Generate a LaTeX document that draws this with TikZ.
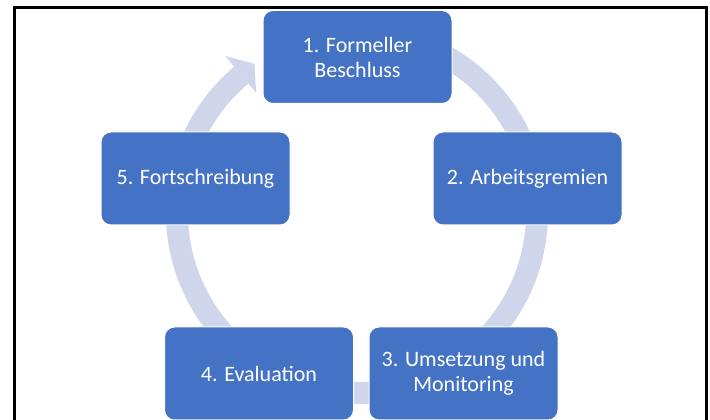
\documentclass[tikz,border=0pt]{standalone}
\usepackage{fontspec}
\setmainfont{Carlito}
\usetikzlibrary{calc}
\definecolor{boxblue}{HTML}{4472C4}
\definecolor{ringcol}{HTML}{CFD5EA}
\begin{document}
\begin{tikzpicture}[x=1pt,y=1pt,
  stepbox/.style={rectangle, rounded corners=10pt, fill=boxblue, draw=white, line width=1pt,
    minimum width=189pt, minimum height=93pt, text=white, align=center,
    font=\fontsize{22}{25}\selectfont, inner sep=2pt},
  ring/.style={draw=ringcol, line width=22pt}]
\useasboundingbox (0,0) rectangle (710,420);
\fill[white] (0,0) rectangle (710,420);
% frame
\draw[line width=3pt, black] (14.5,-5) -- (14.5,412.5) -- (706.5,412.5) -- (706.5,-5);
% ring
\coordinate (c) at (357,207);
\draw[ring] ($(c)+(80:180)$) arc[start angle=80, end angle=-230, radius=180];
\fill[ringcol] ($(c)+(130:205)$) -- ($(c)+(124.5:181)$) -- ($(c)+(130:157)$) -- cycle;
% boxes
\node[stepbox] (b1) at (357.5,363) {1. Formeller\\Beschluss};
\node[stepbox] (b2) at (527.5,241.5) {2. Arbeitsgremien};
\node[stepbox] (b3) at (463.5,46.5) {3. Umsetzung und\\Monitoring};
\node[stepbox] (b4) at (259,46.5) {4. Evaluation};
\node[stepbox] (b5) at (195.5,241.5) {5. Fortschreibung};
\end{tikzpicture}
\end{document}
